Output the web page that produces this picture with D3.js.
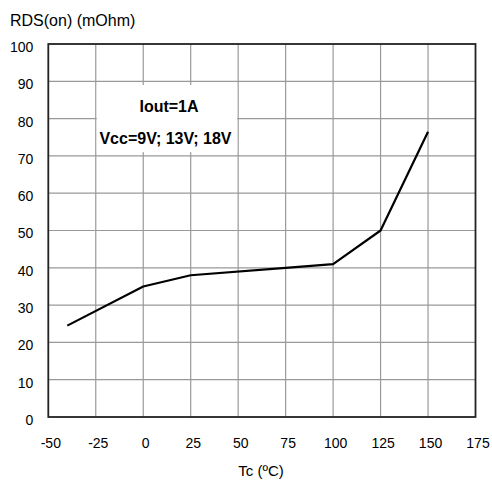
<!DOCTYPE html>
<html><head><meta charset="utf-8">
<script src="https://cdn.jsdelivr.net/npm/d3@7"></script>
<style>body{margin:0;background:#fff}svg{display:block}text{font-family:"Liberation Sans",Arial,sans-serif;fill:#000}</style>
</head><body><svg id="c" width="492" height="483"></svg>
<script>
const tempC = [-40, 0, 25, 75, 100, 125, 150];
const rdsOn = [24.5, 35, 38, 40, 41, 50, 76.5];
const xTicks = [-50, -25, 0, 25, 50, 75, 100, 125, 150, 175];
const yTicks = [0, 10, 20, 30, 40, 50, 60, 70, 80, 90, 100];
const yTitle = "RDS(on) (mOhm)";
const xTitle = "Tc (ºC)";
const notes = ["Iout=1A", "Vcc=9V; 13V; 18V"];

const svg = d3.select("#c");
const L = 48.3, R = 475.5, T = 44, B = 417;
const x = d3.scaleLinear().domain([-50, 175]).range([L, R]);
const y = d3.scaleLinear().domain([0, 100]).range([B, T]);

// grid
svg.append("g").selectAll("line").data(xTicks.slice(1, -1)).join("line")
  .attr("x1", d => x(d)).attr("x2", d => x(d)).attr("y1", T).attr("y2", B)
  .attr("stroke", "#999").attr("stroke-width", 1.2);
svg.append("g").selectAll("line").data(yTicks.slice(1, -1)).join("line")
  .attr("y1", d => y(d)).attr("y2", d => y(d)).attr("x1", L).attr("x2", R)
  .attr("stroke", "#999").attr("stroke-width", 1.2);

// annotation box
svg.append("rect").attr("x", x(-25) + 1).attr("y", y(89)).attr("width", x(50) - x(-25) - 2)
  .attr("height", y(71) - y(89)).attr("fill", "#fff");

// frame
svg.append("rect").attr("x", L).attr("y", T).attr("width", R - L).attr("height", B - T)
  .attr("fill", "none").attr("stroke", "#222").attr("stroke-width", 1.8);

// axes via d3 axis (labels only)
const fmt = d => String(d);
const xa = svg.append("g").attr("transform", `translate(2,${B})`)
  .call(d3.axisBottom(x).tickValues(xTicks).tickSize(0).tickPadding(21).tickFormat(fmt));
const ya = svg.append("g").attr("transform", `translate(${L},3)`)
  .call(d3.axisLeft(y).tickValues(yTicks).tickSize(0).tickPadding(15).tickFormat(fmt));
[xa, ya].forEach(g => {
  g.select(".domain").remove();
  g.selectAll("text").attr("font-size", 14).attr("font-family", '"Liberation Sans",Arial,sans-serif').attr("fill", "#000");
});

// line
svg.append("path").datum(tempC.map((t, i) => [t, rdsOn[i]]))
  .attr("d", d3.line().x(d => x(d[0])).y(d => y(d[1])))
  .attr("fill", "none").attr("stroke", "#000").attr("stroke-width", 2.2).attr("stroke-linejoin", "round");

// titles
svg.append("text").attr("x", 10).attr("y", 25.5).attr("font-size", 16).text(yTitle);
svg.append("text").attr("x", 261).attr("y", 476).attr("font-size", 15).attr("text-anchor", "middle").text(xTitle);

// annotations
svg.append("text").attr("x", 169).attr("y", 111.5).attr("font-size", 16).attr("font-weight", "bold")
  .attr("text-anchor", "middle").text(notes[0]);
svg.append("text").attr("x", 165.5).attr("y", 144).attr("font-size", 16).attr("font-weight", "bold")
  .attr("text-anchor", "middle").text(notes[1]);
</script></body></html>
